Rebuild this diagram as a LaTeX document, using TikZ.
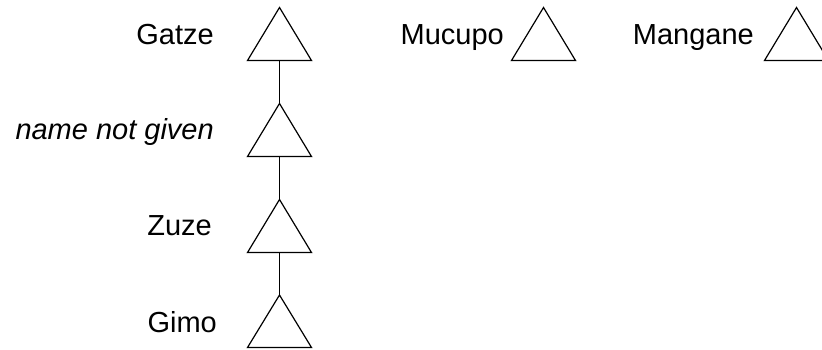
\documentclass[tikz,border=0pt]{standalone}
\usepackage{fontspec}
\setmainfont{Liberation Sans}
\begin{document}
\begin{tikzpicture}[x=1pt,y=-1pt,
  tri/.style={draw=black,line width=1.2pt,line join=miter,fill=white},
  conn/.style={draw=black,line width=1.2pt},
  lbl/.style={inner sep=0pt,anchor=base east,font=\fontsize{29}{34}\selectfont}]
\useasboundingbox[fill=white] (0,0) rectangle (822,349);
% apex coordinates
\coordinate (gA) at (279.5,7.5);
\coordinate (nA) at (279.5,103.5);
\coordinate (zA) at (279.5,199.5);
\coordinate (iA) at (279.5,295);
\coordinate (mA) at (543.5,7.5);
\coordinate (kA) at (796.5,7.5);
% base centre coordinates
\coordinate (gB) at (279.5,60.5);
\coordinate (nB) at (279.5,156.5);
\coordinate (zB) at (279.5,252.5);
\coordinate (iB) at (279.5,347.5);
\coordinate (mB) at (543.5,60.5);
\coordinate (kB) at (796.5,60.5);
% triangles
\foreach \t in {g,n,z,i,m,k}{
  \draw[tri] (\t A) -- ([xshift=32pt]\t B) -- ([xshift=-32pt]\t B) -- cycle;
}
% connectors
\draw[conn] (gB) -- (nA);
\draw[conn] (nB) -- (zA);
\draw[conn] (zB) -- (iA);
% labels
\node[lbl] (gL) at (214,44) {Gatze};
\node[lbl] (nL) at (214,139.5) {\itshape name not given};
\node[lbl] (zL) at (212,235) {Zuze};
\node[lbl] (iL) at (217,332) {Gimo};
\node[lbl] (mL) at (504,44) {Mucupo};
\node[lbl] (kL) at (754,44) {Mangane};
\end{tikzpicture}
\end{document}
